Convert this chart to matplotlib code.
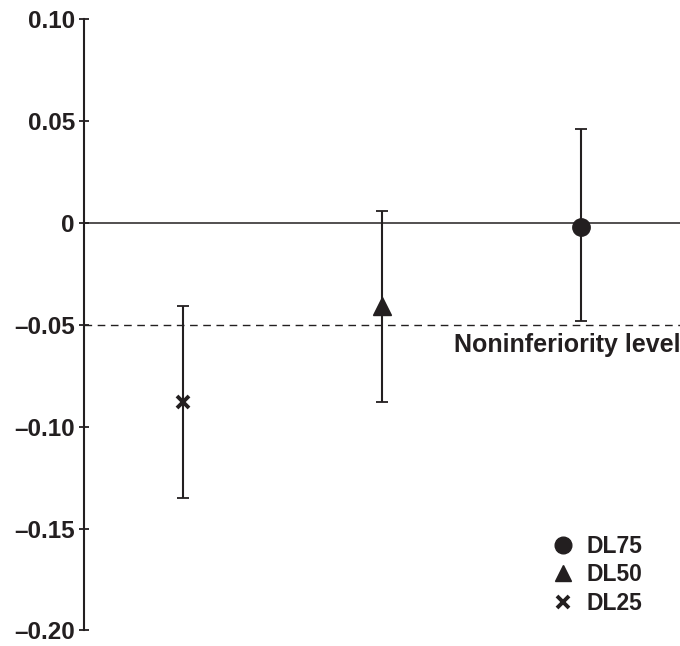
import matplotlib.pyplot as plt
from matplotlib.lines import Line2D

plt.rcParams['font.family'] = ['Liberation Sans', 'DejaVu Sans']
plt.rcParams['font.weight'] = 'bold'

# Differences vs. reference with 95% CI
groups = ["DL25", "DL50", "DL75"]
estimates = [-0.088, -0.041, -0.002]
ci_lower = [-0.135, -0.088, -0.048]
ci_upper = [-0.041, 0.006, 0.046]
markers = {"DL25": "x", "DL50": "^", "DL75": "o"}
noninf_level = -0.05

yticks = [-0.20, -0.15, -0.10, -0.05, 0, 0.05, 0.10]
ytick_labels = ["\u20130.20", "\u20130.15", "\u20130.10", "\u20130.05", "0", "0.05", "0.10"]

ink = "#231f20"

fig = plt.figure(figsize=(6.8, 6.46), dpi=100)
ax = fig.add_axes([0.1235, 0.024, 0.8765, 0.9466])

ax.axhline(0, color=ink, lw=1.1, zorder=1)
ax.axhline(noninf_level, color=ink, lw=1.0, ls=(0, (5.5, 4)), zorder=1)

for i, g in enumerate(groups):
    x = i + 1
    est = estimates[i]
    err = [[est - ci_lower[i]], [ci_upper[i] - est]]
    ax.errorbar([x], [est], yerr=err, fmt="none", ecolor=ink, elinewidth=1.5,
                capsize=4, capthick=1.3, zorder=2)
    if markers[g] == "x":
        ax.plot([x], [est], marker="x", ms=9, mew=2.8, color=ink, ls="none", zorder=3)
    else:
        ax.plot([x], [est], marker=markers[g], ms=12.5, color=ink, ls="none", zorder=3)

ax.text(3.5, noninf_level - 0.004, "Noninferiority level", ha="right", va="top",
        fontsize=18, fontweight="bold", color=ink)

ax.set_xlim(0.504, 3.5)
ax.set_ylim(-0.20, 0.10)
ax.set_yticks(yticks)
ax.set_yticklabels(ytick_labels, fontsize=17.5, fontweight="bold", color=ink)
ax.tick_params(axis="y", direction="inout", length=7, width=1.3, color=ink, pad=3)
ax.set_xticks([])

for side in ["top", "right", "bottom"]:
    ax.spines[side].set_visible(False)
ax.spines["left"].set_color(ink)
ax.spines["left"].set_linewidth(1.5)

handles = [
    Line2D([], [], marker="o", ms=12, color=ink, ls="none", label="DL75"),
    Line2D([], [], marker="^", ms=12, color=ink, ls="none", label="DL50"),
    Line2D([], [], marker="x", ms=9, mew=2.8, color=ink, ls="none", label="DL25"),
]
leg = ax.legend(handles=handles, loc="lower right", bbox_to_anchor=(0.953, 0.010),
                frameon=False, fontsize=16.5, handlelength=0.8, handletextpad=0.65,
                labelspacing=0.25, borderaxespad=0.0)
for t in leg.get_texts():
    t.set_color(ink)
    t.set_fontweight("bold")

fig.savefig("out.png", dpi=100)
